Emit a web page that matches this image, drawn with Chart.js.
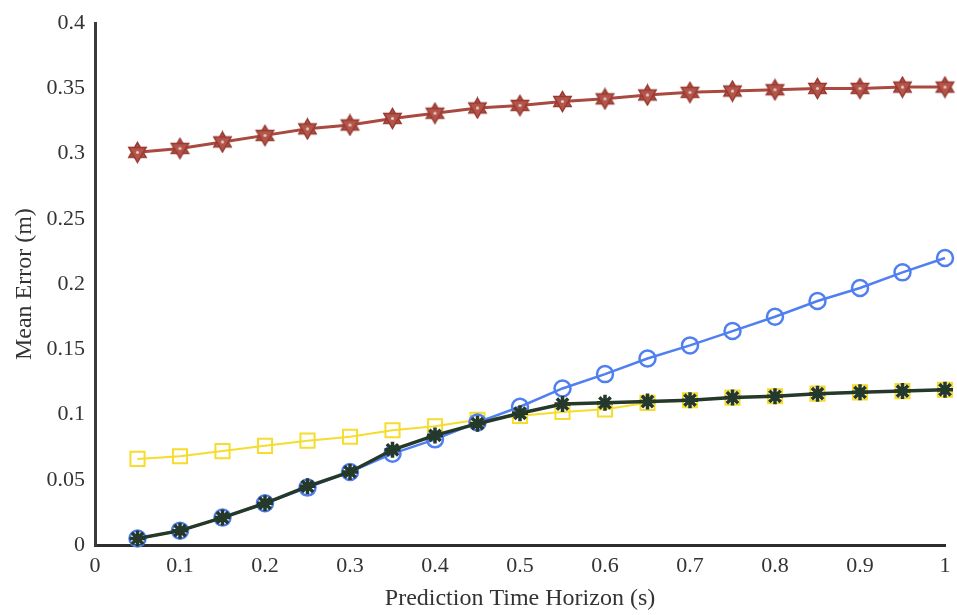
<!DOCTYPE html>
<html>
<head>
<meta charset="utf-8">
<script src="https://cdn.jsdelivr.net/npm/chart.js@4/dist/chart.umd.min.js"></script>
<style>
  body { margin: 0; background: #fff; }
  #myChart { display: block; }
</style>
</head>
<body>
<canvas id="myChart" width="957" height="615"></canvas>
<script>
// prediction horizons (s)
const horizon = [0.05, 0.1, 0.15, 0.2, 0.25, 0.3, 0.35, 0.4, 0.45, 0.5,
                 0.55, 0.6, 0.65, 0.7, 0.75, 0.8, 0.85, 0.9, 0.95, 1];

// mean error (m) per method
const errStar = [0.301, 0.304, 0.309, 0.314, 0.319, 0.322, 0.327, 0.331, 0.335, 0.337,
                 0.340, 0.342, 0.345, 0.347, 0.348, 0.349, 0.350, 0.350, 0.351, 0.351];
const errCircle = [0.005, 0.011, 0.021, 0.032, 0.044, 0.056, 0.070, 0.081, 0.094, 0.106,
                   0.120, 0.131, 0.143, 0.153, 0.164, 0.175, 0.187, 0.197, 0.209, 0.220];
const errSquare = [0.066, 0.068, 0.072, 0.076, 0.080, 0.083, 0.088, 0.091, 0.096, 0.099,
                   0.102, 0.104, 0.109, 0.111, 0.113, 0.114, 0.116, 0.117, 0.118, 0.119];
const errAsterisk = [0.005, 0.011, 0.021, 0.032, 0.045, 0.056, 0.073, 0.084, 0.093, 0.101,
                     0.108, 0.109, 0.110, 0.111, 0.113, 0.114, 0.116, 0.117, 0.118, 0.119];

const xTicks = [0, 0.1, 0.2, 0.3, 0.4, 0.5, 0.6, 0.7, 0.8, 0.9, 1];
const yTicks = [0, 0.05, 0.1, 0.15, 0.2, 0.25, 0.3, 0.35, 0.4];

function toPoints(ys) {
    return horizon.map((x, i) => ({x: x, y: ys[i]}));
}

// six pointed star marker
function hexagram(size, fill, stroke) {
    const c = document.createElement('canvas');
    c.width = size; c.height = size;
    const g = c.getContext('2d');
    const cx = size / 2, cy = size / 2, r = size / 2 - 1.5;
    g.fillStyle = fill;
    g.strokeStyle = stroke;
    g.lineWidth = 1.5;
    g.lineJoin = 'miter';
    [-Math.PI / 2, Math.PI / 2].forEach(function (a0) {
        g.beginPath();
        for (let k = 0; k < 3; k++) {
            const a = a0 + k * 2 * Math.PI / 3;
            const px = cx + r * Math.cos(a), py = cy + r * Math.sin(a);
            if (k === 0) g.moveTo(px, py); else g.lineTo(px, py);
        }
        g.closePath();
        g.fill();
        g.stroke();
    });
    g.fillStyle = '#e8c7bf';
    g.beginPath();
    g.arc(cx, cy, 1.6, 0, Math.PI * 2);
    g.fill();
    return c;
}

const starImg = hexagram(23, '#b3554a', '#983a31');

function fmt(v) {
    return String(Number(v.toFixed(2)));
}

const family = "'Liberation Serif', 'DejaVu Serif', serif";
const tickFont = {family: family, size: 22};
const titleFont = {family: family, size: 24};

const data = {
    datasets: [{
        label: 'asterisk',
        data: toPoints(errAsterisk),
        borderColor: '#25392b',
        backgroundColor: '#25392b',
        borderWidth: 3.5,
        pointStyle: 'star',
        pointRadius: 8,
        pointBorderWidth: 3.5,
        clip: false,
        order: 0
    }, {
        label: 'circle',
        data: toPoints(errCircle),
        borderColor: '#4f7ff0',
        backgroundColor: 'rgba(0,0,0,0)',
        borderWidth: 2.5,
        pointStyle: 'circle',
        pointRadius: 8,
        pointBorderWidth: 2.5,
        clip: false,
        order: 1
    }, {
        label: 'square',
        data: toPoints(errSquare),
        borderColor: '#f6dc2c',
        backgroundColor: 'rgba(0,0,0,0)',
        borderWidth: 2,
        pointStyle: 'rect',
        pointRadius: 10,
        pointBorderWidth: 2,
        clip: false,
        order: 2
    }, {
        label: 'hexagram',
        data: toPoints(errStar),
        borderColor: '#a9493f',
        backgroundColor: '#a9493f',
        borderWidth: 3,
        pointStyle: starImg,
        clip: false,
        order: 3
    }]
};

const config = {
    type: 'line',
    data,
    options: {
        responsive: false,
        animation: false,
        layout: {padding: {top: 18, right: 2, left: 0, bottom: 0}},
        plugins: {
            legend: {display: false},
            tooltip: {enabled: false}
        },
        scales: {
            x: {
                type: 'linear',
                min: 0,
                max: 1,
                afterBuildTicks: function (scale) {
                    scale.ticks = xTicks.map(v => ({value: v}));
                },
                afterFit: function (scale) {
                    scale.height = 70;
                    scale.paddingRight = 0;
                },
                grid: {display: false, drawTicks: false},
                border: {display: true, color: '#2e2e2e', width: 3},
                ticks: {
                    color: '#333',
                    font: tickFont,
                    padding: 8,
                    maxRotation: 0,
                    callback: v => fmt(v)
                },
                title: {
                    display: true,
                    text: 'Prediction Time Horizon (s)',
                    color: '#333',
                    font: titleFont,
                    padding: {top: 0, bottom: 2}
                }
            },
            y: {
                min: 0,
                max: 0.4,
                afterBuildTicks: function (scale) {
                    scale.ticks = yTicks.map(v => ({value: v}));
                },
                afterFit: function (scale) { scale.width = 95; },
                grid: {display: false, drawTicks: false},
                border: {display: true, color: '#3a3a3a', width: 3},
                ticks: {
                    color: '#333',
                    font: tickFont,
                    padding: 10,
                    callback: v => fmt(v)
                },
                title: {
                    display: true,
                    text: 'Mean Error (m)',
                    color: '#333',
                    font: titleFont,
                    padding: {top: 10, bottom: 0}
                }
            }
        }
    }
};

var myChart = new Chart(
document.getElementById('myChart'),
config
);
</script>
</body>
</html>
